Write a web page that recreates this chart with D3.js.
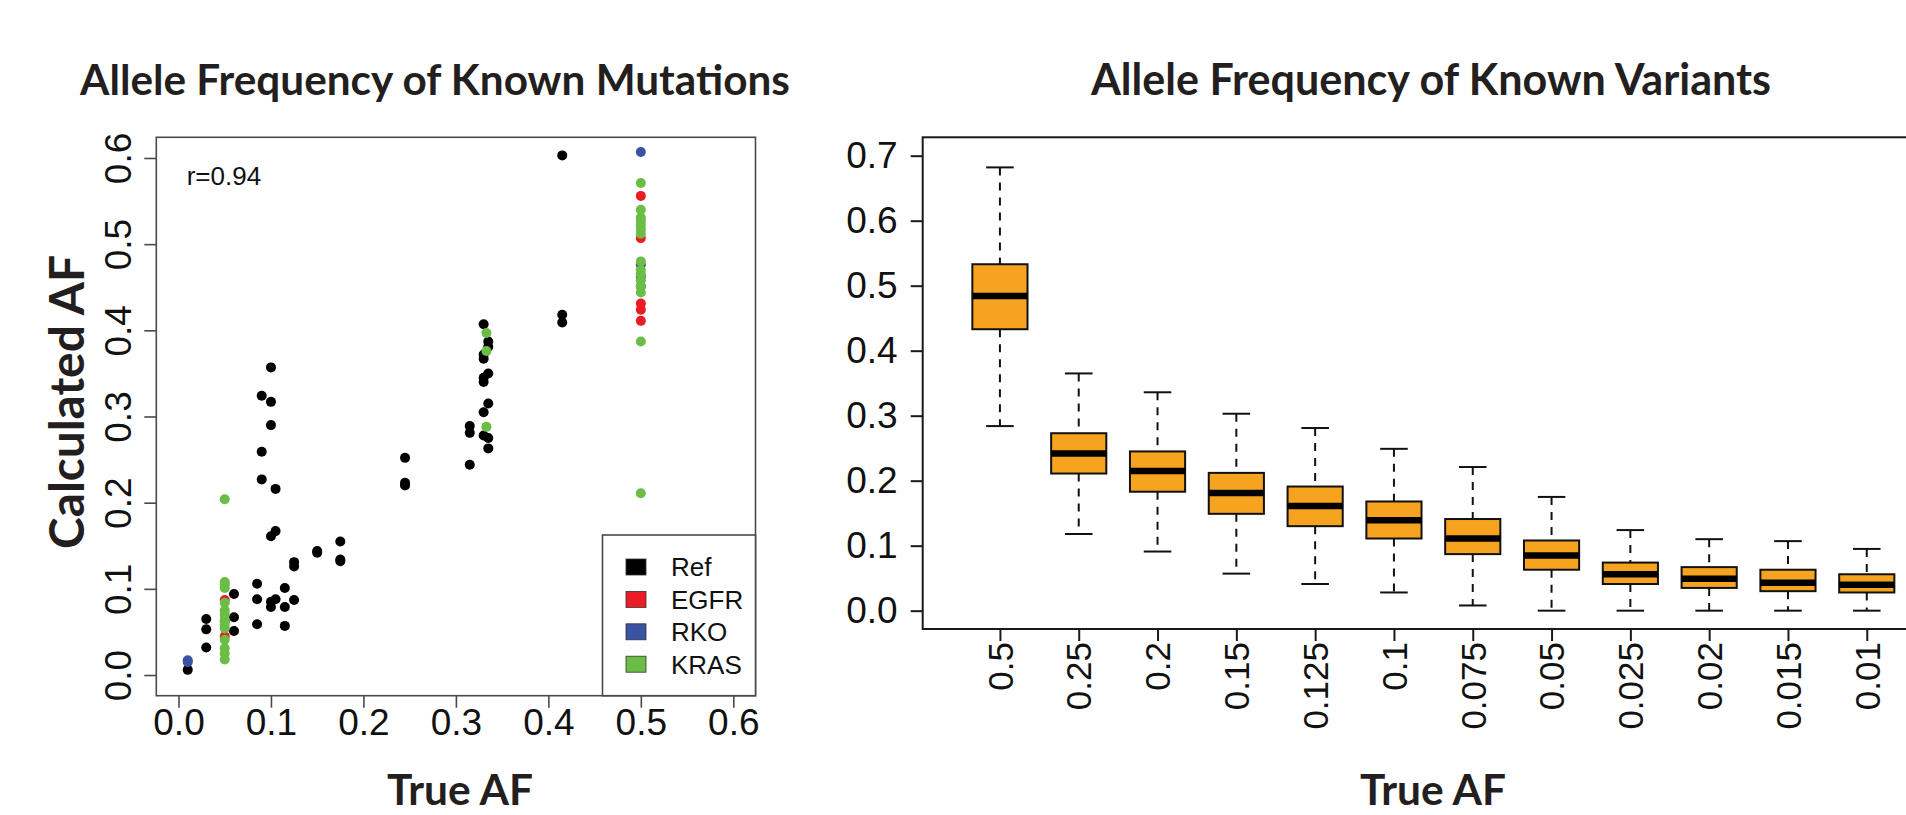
<!DOCTYPE html>
<html>
<head>
<meta charset="utf-8">
<script src="https://cdn.jsdelivr.net/npm/d3@7"></script>
<style>
  body { margin: 0; background: #fff; }
  svg { display: block; }
</style>
</head>
<body>
<script>
// scatter: [true AF, calculated AF]
var refPoints = [
  [0.01, 0.006], [0.03, 0.065], [0.03, 0.053], [0.03, 0.032],
  [0.06, 0.094], [0.06, 0.067], [0.06, 0.051],
  [0.085, 0.106], [0.085, 0.088], [0.085, 0.059],
  [0.09, 0.324], [0.09, 0.259], [0.09, 0.227],
  [0.1, 0.357], [0.1, 0.317], [0.1, 0.290], [0.1, 0.161], [0.1, 0.085], [0.1, 0.079],
  [0.105, 0.216], [0.105, 0.167], [0.105, 0.088],
  [0.115, 0.101], [0.115, 0.079], [0.115, 0.057],
  [0.125, 0.131], [0.125, 0.126], [0.125, 0.087],
  [0.15, 0.144], [0.15, 0.142],
  [0.175, 0.155], [0.175, 0.134], [0.175, 0.132],
  [0.245, 0.252], [0.245, 0.223], [0.245, 0.220],
  [0.315, 0.289], [0.315, 0.281], [0.315, 0.244],
  [0.33, 0.407], [0.33, 0.372], [0.33, 0.367], [0.33, 0.345], [0.33, 0.340], [0.33, 0.305], [0.33, 0.278],
  [0.335, 0.387], [0.335, 0.381], [0.335, 0.350], [0.335, 0.315], [0.335, 0.275], [0.335, 0.263],
  [0.415, 0.603], [0.415, 0.418], [0.415, 0.409]
];
var egfrPoints = [
  [0.05, 0.087], [0.05, 0.062], [0.05, 0.045],
  [0.5, 0.556], [0.5, 0.507], [0.5, 0.431], [0.5, 0.424], [0.5, 0.411]
];
var rkoPoints = [
  [0.01, 0.017], [0.01, 0.015],
  [0.5, 0.607], [0.5, 0.476], [0.5, 0.462], [0.5, 0.451]
];
var krasPoints = [
  [0.05, 0.204], [0.05, 0.108], [0.05, 0.105], [0.05, 0.101], [0.05, 0.084],
  [0.05, 0.075], [0.05, 0.070], [0.05, 0.064], [0.05, 0.059], [0.05, 0.054],
  [0.05, 0.041], [0.05, 0.031], [0.05, 0.025], [0.05, 0.018],
  [0.333, 0.397], [0.333, 0.376], [0.333, 0.288],
  [0.5, 0.571], [0.5, 0.540], [0.5, 0.531], [0.5, 0.527], [0.5, 0.522], [0.5, 0.517],
  [0.5, 0.512], [0.5, 0.480], [0.5, 0.470], [0.5, 0.465], [0.5, 0.458], [0.5, 0.451],
  [0.5, 0.444], [0.5, 0.387], [0.5, 0.211]
];
var legendNames = ["Ref", "EGFR", "RKO", "KRAS"];
var legendColors = ["#000000", "#ec1c24", "#3953a4", "#6abd45"];
var scatterTicks = [0, 0.1, 0.2, 0.3, 0.4, 0.5, 0.6];

// boxplot
var trueAF = ["0.5", "0.25", "0.2", "0.15", "0.125", "0.1", "0.075", "0.05", "0.025", "0.02", "0.015", "0.01"];
var whiskerLow = [0.284, 0.118, 0.091, 0.057, 0.041, 0.028, 0.008, 0.000, 0.000, 0.000, 0.000, 0.000];
var q1 = [0.433, 0.211, 0.183, 0.149, 0.130, 0.111, 0.087, 0.063, 0.041, 0.035, 0.030, 0.028];
var median = [0.484, 0.242, 0.215, 0.181, 0.161, 0.139, 0.111, 0.085, 0.056, 0.049, 0.043, 0.040];
var q3 = [0.533, 0.273, 0.245, 0.212, 0.191, 0.168, 0.141, 0.108, 0.074, 0.067, 0.063, 0.056];
var whiskerHigh = [0.682, 0.365, 0.336, 0.303, 0.281, 0.249, 0.221, 0.175, 0.124, 0.110, 0.107, 0.095];
var boxTicks = [0, 0.1, 0.2, 0.3, 0.4, 0.5, 0.6, 0.7];

var W = 1906, H = 815;
var tickFont = "'Liberation Sans', Arial, Helvetica, sans-serif";
var titleFont = "Lato, 'Open Sans', sans-serif";
var tickSize = 37;

var svg = d3.select("body").append("svg")
    .attr("width", W)
    .attr("height", H);

function fitText(sel, target) {
  var fs = parseFloat(sel.attr("font-size"));
  var len = sel.node().getComputedTextLength();
  sel.attr("font-size", (fs * target / len).toFixed(2));
}

// ---------- left: scatter ----------
var x1 = d3.scaleLinear().domain([-0.024, 0.624]).range([156.3, 755.5]);
var y1 = d3.scaleLinear().domain([-0.024, 0.624]).range([695.7, 137.3]);

var left = svg.append("g");

left.append("rect")
    .attr("x", x1.range()[0])
    .attr("y", y1.range()[1])
    .attr("width", x1.range()[1] - x1.range()[0])
    .attr("height", y1.range()[0] - y1.range()[1])
    .attr("fill", "none")
    .attr("stroke", "#4a4a4a")
    .attr("stroke-width", 1.6);

var xAxis1 = left.append("g")
    .attr("transform", "translate(0," + y1.range()[0] + ")")
    .call(d3.axisBottom(x1).tickValues(scatterTicks).tickSize(12).tickPadding(1).tickFormat(d3.format(".1f")));
xAxis1.select(".domain").remove();
xAxis1.selectAll("line").attr("stroke", "#4a4a4a").attr("stroke-width", 1.6);
xAxis1.selectAll("text")
    .attr("font-family", tickFont)
    .attr("font-size", tickSize)
    .attr("fill", "#111")
    .attr("dy", "0.71em");

var yAxis1 = left.append("g")
    .attr("transform", "translate(" + x1.range()[0] + ",0)")
    .call(d3.axisLeft(y1).tickValues(scatterTicks).tickSize(12).tickFormat(d3.format(".1f")));
yAxis1.select(".domain").remove();
yAxis1.selectAll("line").attr("stroke", "#4a4a4a").attr("stroke-width", 1.6);
yAxis1.selectAll("text")
    .attr("font-family", tickFont)
    .attr("font-size", tickSize)
    .attr("fill", "#111")
    .attr("x", null).attr("dy", null)
    .attr("text-anchor", "middle")
    .attr("transform", "translate(-25,0) rotate(-90)");

var series = [refPoints, egfrPoints, rkoPoints, krasPoints];
series.forEach(function(pts, i) {
  left.append("g").selectAll("circle")
      .data(pts)
    .enter().append("circle")
      .attr("cx", function(d) { return x1(d[0]); })
      .attr("cy", function(d) { return y1(d[1]); })
      .attr("r", 5)
      .attr("fill", legendColors[i]);
});

left.append("text")
    .attr("x", 186.7)
    .attr("y", 185)
    .attr("font-family", tickFont)
    .attr("font-size", 26)
    .attr("fill", "#111")
    .text("r=0.94");

// legend
var lg = left.append("g");
lg.append("rect")
    .attr("x", 602.5)
    .attr("y", 535)
    .attr("width", x1.range()[1] - 602.5)
    .attr("height", y1.range()[0] - 535)
    .attr("fill", "#fff")
    .attr("stroke", "#4a4a4a")
    .attr("stroke-width", 1.6);
legendNames.forEach(function(name, i) {
  var cy = 567 + i * 32.4;
  lg.append("rect")
      .attr("x", 626).attr("y", cy - 8)
      .attr("width", 20).attr("height", 16)
      .attr("fill", legendColors[i])
      .attr("stroke", "#333")
      .attr("stroke-width", 0.8);
  lg.append("text")
      .attr("x", 671).attr("y", cy)
      .attr("dy", "0.36em")
      .attr("font-family", tickFont)
      .attr("font-size", 26)
      .attr("fill", "#111")
      .text(name);
});

var t1 = svg.append("text")
    .attr("x", 435).attr("y", 95)
    .attr("text-anchor", "middle")
    .attr("font-family", titleFont)
    .attr("font-weight", 700)
    .attr("font-size", 38)
    .attr("fill", "#231f20")
    .text("Allele Frequency of Known Mutations");
fitText(t1, 710);

var yl = svg.append("text")
    .attr("transform", "translate(84,402) rotate(-90)")
    .attr("text-anchor", "middle")
    .attr("font-family", titleFont)
    .attr("font-weight", 700)
    .attr("font-size", 40)
    .attr("fill", "#231f20")
    .text("Calculated AF");
fitText(yl, 294);

var xl1 = svg.append("text")
    .attr("x", 460).attr("y", 805)
    .attr("text-anchor", "middle")
    .attr("font-family", titleFont)
    .attr("font-weight", 700)
    .attr("font-size", 34)
    .attr("fill", "#231f20")
    .text("True AF");
fitText(xl1, 146);

// ---------- right: boxplot ----------
var pos = trueAF.map(function(d, i) { return i + 1; });
var x2 = d3.scaleLinear().domain([0.02, 12.98]).range([922.7, 1944]);
var y2 = d3.scaleLinear().domain([-0.0282, 0.7283]).range([629, 137.3]);

var right = svg.append("g");

right.append("rect")
    .attr("x", x2.range()[0])
    .attr("y", y2.range()[1])
    .attr("width", x2.range()[1] - x2.range()[0])
    .attr("height", y2.range()[0] - y2.range()[1])
    .attr("fill", "none")
    .attr("stroke", "#1a1a1a")
    .attr("stroke-width", 2);

var yAxis2 = right.append("g")
    .attr("transform", "translate(" + x2.range()[0] + ",0)")
    .call(d3.axisLeft(y2).tickValues(boxTicks).tickSize(12).tickPadding(13).tickFormat(d3.format(".1f")));
yAxis2.select(".domain").remove();
yAxis2.selectAll("line").attr("stroke", "#1a1a1a").attr("stroke-width", 2);
yAxis2.selectAll("text")
    .attr("font-family", tickFont)
    .attr("font-size", tickSize)
    .attr("fill", "#111");

var xAxis2 = right.append("g")
    .attr("transform", "translate(0," + y2.range()[0] + ")")
    .call(d3.axisBottom(x2).tickValues(pos).tickSize(12).tickFormat(function(d) { return trueAF[d - 1]; }));
xAxis2.select(".domain").remove();
xAxis2.selectAll("line").attr("stroke", "#1a1a1a").attr("stroke-width", 2);
xAxis2.selectAll("text")
    .attr("font-family", tickFont)
    .attr("font-size", 35)
    .attr("fill", "#111")
    .attr("y", null).attr("dy", "0.35em")
    .attr("text-anchor", "end")
    .attr("transform", "translate(0,13) rotate(-90)");

var halfBox = x2(1.35) - x2(1);
var halfCap = halfBox / 2;

var boxes = right.selectAll("g.box")
    .data(pos)
  .enter().append("g")
    .attr("class", "box");

boxes.append("line")
    .attr("x1", function(d) { return x2(d); })
    .attr("x2", function(d) { return x2(d); })
    .attr("y1", function(d, i) { return y2(whiskerHigh[i]); })
    .attr("y2", function(d, i) { return y2(q3[i]); })
    .attr("stroke", "#111").attr("stroke-width", 2)
    .attr("stroke-dasharray", "8,7");
boxes.append("line")
    .attr("x1", function(d) { return x2(d); })
    .attr("x2", function(d) { return x2(d); })
    .attr("y1", function(d, i) { return y2(q1[i]); })
    .attr("y2", function(d, i) { return y2(whiskerLow[i]); })
    .attr("stroke", "#111").attr("stroke-width", 2)
    .attr("stroke-dasharray", "8,7");
[whiskerHigh, whiskerLow].forEach(function(arr) {
  boxes.append("line")
      .attr("x1", function(d) { return x2(d) - halfCap; })
      .attr("x2", function(d) { return x2(d) + halfCap; })
      .attr("y1", function(d, i) { return y2(arr[i]); })
      .attr("y2", function(d, i) { return y2(arr[i]); })
      .attr("stroke", "#111").attr("stroke-width", 2);
});
boxes.append("rect")
    .attr("x", function(d) { return x2(d) - halfBox; })
    .attr("width", halfBox * 2)
    .attr("y", function(d, i) { return y2(q3[i]); })
    .attr("height", function(d, i) { return y2(q1[i]) - y2(q3[i]); })
    .attr("fill", "#f6a41f")
    .attr("stroke", "#111")
    .attr("stroke-width", 2);
boxes.append("line")
    .attr("x1", function(d) { return x2(d) - halfBox; })
    .attr("x2", function(d) { return x2(d) + halfBox; })
    .attr("y1", function(d, i) { return y2(median[i]); })
    .attr("y2", function(d, i) { return y2(median[i]); })
    .attr("stroke", "#000").attr("stroke-width", 6.5);

var t2 = svg.append("text")
    .attr("x", 1431).attr("y", 94.5)
    .attr("text-anchor", "middle")
    .attr("font-family", titleFont)
    .attr("font-weight", 700)
    .attr("font-size", 38)
    .attr("fill", "#231f20")
    .text("Allele Frequency of Known Variants");
fitText(t2, 680);

var xl2 = svg.append("text")
    .attr("x", 1433).attr("y", 805)
    .attr("text-anchor", "middle")
    .attr("font-family", titleFont)
    .attr("font-weight", 700)
    .attr("font-size", 34)
    .attr("fill", "#231f20")
    .text("True AF");
fitText(xl2, 146);
</script>
</body>
</html>
